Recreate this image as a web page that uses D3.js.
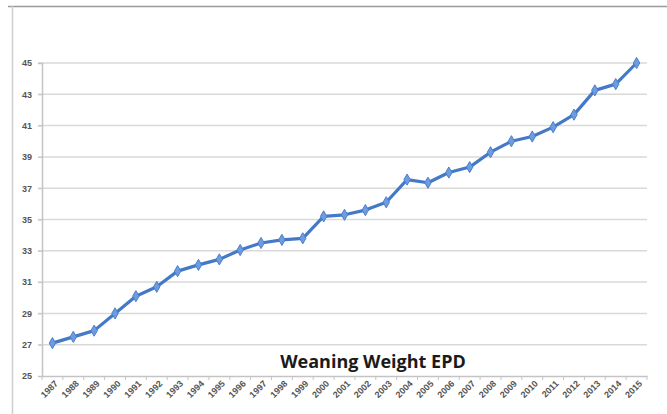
<!DOCTYPE html>
<html><head><meta charset="utf-8">
<script src="https://cdn.jsdelivr.net/npm/d3@7"></script>
<style>html,body{margin:0;padding:0;background:#fff;}svg{display:block;}</style>
</head><body>
<script>
const years = ["1987","1988","1989","1990","1991","1992","1993","1994","1995","1996","1997","1998","1999","2000","2001","2002","2003","2004","2005","2006","2007","2008","2009","2010","2011","2012","2013","2014","2015"];
const epd = [27.1,27.5,27.9,29.0,30.1,30.7,31.7,32.1,32.45,33.05,33.5,33.7,33.8,35.2,35.3,35.6,36.1,37.55,37.35,38.0,38.35,39.3,40.0,40.3,40.9,41.7,43.25,43.65,45.0];
const yTicks = [25,27,29,31,33,35,37,39,41,43,45];
const title = "Weaning Weight EPD";

(function () {
const W = 667, H = 414;
const svg = d3.select("body").append("svg").attr("width", W).attr("height", H);

// outer frame
svg.append("line").attr("x1", 8).attr("x2", W).attr("y1", 6.5).attr("y2", 6.5).attr("stroke", "#9a9a9a").attr("stroke-width", 1.5);
svg.append("line").attr("x1", 12.5).attr("x2", 12.5).attr("y1", 6).attr("y2", H).attr("stroke", "#cfcfcf").attr("stroke-width", 1.5);

const mLeft = 42, mRight = 647, mTop = 63, mBottom = 376;
const x = d3.scaleBand().domain(years).range([mLeft, mRight]);
const y = d3.scaleLinear().domain([25, 45]).range([mBottom, mTop]);

// gridlines
svg.append("g").selectAll("line").data(yTicks.filter(d => d !== 25)).join("line")
  .attr("x1", mLeft - 4).attr("x2", mRight).attr("y1", d => y(d)).attr("y2", d => y(d))
  .attr("stroke", "#d9d9d9").attr("stroke-width", 1.5);

// y axis
const yAxis = svg.append("g").attr("transform", `translate(${mLeft},0)`)
  .call(d3.axisLeft(y).tickValues(yTicks).tickSize(4).tickPadding(6).tickFormat(d3.format("d")));
yAxis.select(".domain").attr("stroke", "#c4c4c4").attr("stroke-width", 1.5);
yAxis.selectAll(".tick line").attr("stroke", "#c4c4c4");
yAxis.selectAll("text").attr("fill", "#555").style("font-family", "'Liberation Sans', Arial, sans-serif").style("font-size", "9px").style("font-weight", "bold");

// x axis
const xAxis = svg.append("g").attr("transform", `translate(0,${mBottom})`)
  .call(d3.axisBottom(x).tickSize(0).tickPadding(0).tickFormat(""));
xAxis.select(".domain").attr("stroke", "#c4c4c4").attr("stroke-width", 1.5);
// boundary ticks
svg.append("g").selectAll("line").data(years.concat(["_end"])).join("line")
  .attr("x1", (d, i) => mLeft + i * x.step()).attr("x2", (d, i) => mLeft + i * x.step())
  .attr("y1", mBottom).attr("y2", mBottom + 4).attr("stroke", "#c4c4c4").attr("stroke-width", 1);
// rotated labels
svg.append("g").selectAll("text").data(years).join("text")
  .attr("transform", d => `translate(${x(d) + x.bandwidth() / 2 + 4},${mBottom + 6}) rotate(-45)`)
  .attr("text-anchor", "end").attr("dy", "0.35em")
  .attr("fill", "#555").style("font-family", "'Liberation Sans', Arial, sans-serif").style("font-size", "9px").style("font-weight", "bold")
  .text(d => d);

// line
const line = d3.line().x((d, i) => x(years[i]) + x.bandwidth() / 2).y(d => y(d));
svg.append("path").datum(epd).attr("d", line).attr("fill", "none")
  .attr("stroke", "#4479c8").attr("stroke-width", 3.2).attr("stroke-linejoin", "round");

// markers
svg.append("g").selectAll("path").data(epd).join("path")
  .attr("d", d3.symbol().type(d3.symbolDiamond).size(36))
  .attr("transform", (d, i) => `translate(${x(years[i]) + x.bandwidth() / 2},${y(d)})`)
  .attr("fill", "#6d9de0").attr("stroke", "#4a7fcb").attr("stroke-width", 1);

// title
svg.append("text").attr("x", 373).attr("y", 368).attr("text-anchor", "middle")
  .style("font-family", "'Open Sans', 'Noto Sans', sans-serif").style("font-weight", "bold").style("font-size", "18px")
  .attr("fill", "#1a1a1a").text(title);
})();
</script>
</body></html>
